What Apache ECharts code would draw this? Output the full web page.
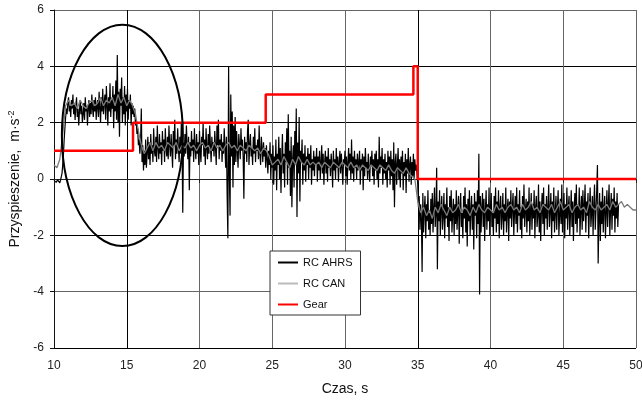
<!DOCTYPE html>
<html>
<head>
<meta charset="utf-8">
<script src="https://cdn.jsdelivr.net/npm/echarts@6/dist/echarts.min.js"></script>
<style>
  html, body { margin: 0; padding: 0; background: #fff; }
  #chart { width: 642px; height: 400px; }
</style>
</head>
<body>
<div id="chart"></div>
<script>
// Time axis ticks (s) and acceleration axis ticks (m/s^2)
const xTicks = [10, 15, 20, 25, 30, 35, 40, 45, 50];
const yTicks = [-6, -4, -2, 0, 2, 4, 6];

// RC AHRS acceleration, sampled every 0.05 s from t = 10.0 s (one row per half second)
const ahrsStart = 10.0;
const ahrsStep = 0.05;
const ahrsValues = [
  -0.05,-0.1,-0.02,-0.12,-0.08,-0.03,-0.1,-0.06,-0.14,-0.04,
  0.0,0.2,0.5,0.9,1.4,1.8,2.2,2.5,2.3,2.7,
  2.9,2.4,2.6,2.2,2.8,2.5,3.0,2.3,2.7,2.1,
  2.6,2.9,2.2,2.5,1.9,2.4,2.8,2.3,2.6,2.0,
  2.3,2.7,2.1,2.9,2.4,2.6,1.9,2.5,2.8,2.2,
  2.7,2.3,3.0,2.5,2.2,2.8,2.4,2.9,2.1,2.6,
  2.8,2.2,3.1,2.5,2.0,2.9,2.4,3.2,2.3,2.7,
  3.0,2.1,3.3,2.6,1.9,2.9,2.4,3.4,2.2,2.8,
  2.5,3.3,1.8,3.0,2.4,3.5,2.1,4.4,2.0,3.1,
  1.5,3.2,2.6,3.6,2.0,2.9,2.3,3.3,1.9,3.0,
  2.4,3.2,2.1,2.8,2.5,3.0,1.9,2.7,2.3,2.6,
  2.2,2.5,1.9,2.1,1.6,1.8,1.2,1.4,0.9,1.3,
  2.5,0.6,1.2,0.3,1.0,0.5,1.4,0.4,0.9,1.5,
  0.7,1.3,0.5,1.6,0.9,1.2,0.6,1.8,1.0,0.8,
  1.5,0.6,1.9,1.1,0.7,1.6,0.9,1.3,0.5,1.7,
  1.0,1.4,0.6,1.8,1.1,0.8,1.5,0.7,1.9,1.2,
  0.8,1.6,1.0,0.4,1.7,1.2,2.1,0.7,1.4,0.9,
  1.8,1.1,0.6,1.5,0.9,2.0,1.2,-1.2,1.3,0.8,
  1.6,0.9,1.9,1.2,0.7,1.5,-0.4,1.3,0.8,1.7,
  1.0,1.4,0.6,1.8,1.1,0.7,1.6,0.9,1.3,0.5,
  1.7,1.0,0.6,1.5,1.2,2.0,0.8,1.4,0.5,1.8,
  1.1,0.7,1.6,0.9,1.9,1.2,0.6,1.5,1.0,1.3,
  0.8,1.7,1.1,0.5,1.9,1.2,2.1,0.7,1.4,1.0,
  1.6,0.6,1.3,0.9,1.8,1.1,0.4,1.5,-0.6,-2.1,
  4.0,0.2,-1.3,3.0,0.8,2.4,-0.3,1.9,0.5,2.2,
  0.6,1.7,1.0,0.4,1.6,1.2,0.7,1.8,1.0,1.4,
  0.8,-0.7,1.5,0.9,1.3,0.6,1.7,2.1,0.5,1.2,
  1.6,0.8,1.1,0.5,1.5,0.9,1.8,0.6,1.2,1.0,
  1.4,0.7,1.9,0.9,0.5,1.5,1.1,0.6,1.3,0.8,
  1.1,0.4,1.2,0.7,0.2,1.0,0.5,1.3,0.0,0.9,
  0.4,1.2,-0.2,0.8,0.3,1.4,-0.4,0.9,0.5,1.5,
  0.0,1.1,-0.5,0.7,1.6,0.2,0.9,-0.3,1.3,0.6,
  1.8,-0.2,2.3,0.4,1.0,-0.6,1.5,-1.0,0.7,1.2,
  -0.3,1.7,0.5,2.5,-1.35,1.3,0.2,2.2,-0.8,1.0,
  0.6,1.4,-0.2,0.9,0.3,1.2,-0.1,0.8,0.5,1.1,
  0.0,0.9,0.4,1.2,-0.2,0.7,0.3,1.0,0.1,0.8,
  0.5,1.1,-0.1,0.8,0.3,1.0,0.0,0.6,1.2,0.2,
  0.9,-0.2,0.6,1.0,0.2,0.8,-0.1,1.1,0.4,0.7,
  0.1,0.9,0.5,-0.3,1.0,0.3,0.7,0.0,1.1,0.4,
  0.8,-0.1,0.6,1.0,0.2,0.9,0.4,-0.2,0.7,0.5,
  1.0,0.1,0.8,-0.2,0.6,1.1,0.3,0.9,0.0,1.4,
  0.2,0.8,-0.1,1.0,0.4,0.7,0.0,0.9,0.3,0.6,
  1.0,-0.2,0.7,0.3,0.9,-0.4,0.8,0.1,1.1,0.4,
  0.6,0.0,0.9,0.3,-0.1,0.8,0.5,1.0,0.1,0.7,
  -0.2,0.9,0.3,1.0,0.0,0.7,-0.3,1.5,0.2,0.8,
  0.4,1.1,-0.2,0.7,0.2,0.9,0.0,0.6,-0.3,1.0,
  0.3,0.8,-0.2,1.0,0.1,0.7,-0.4,1.3,-1.0,0.6,
  0.9,-0.2,0.5,1.1,0.0,0.7,-0.3,0.8,0.2,1.0,
  -0.4,0.6,0.1,0.9,-0.5,0.7,0.2,1.1,-0.1,0.5,
  0.8,-0.2,0.6,0.1,0.9,0.0,0.7,0.3,0.5,0.2,
  -0.2,-1.0,-0.6,-1.8,-0.9,-1.4,-3.3,-0.5,-1.9,-1.1,
  -0.6,-2.1,-0.9,-1.5,-0.4,-1.8,-1.2,-2.0,-0.7,-1.6,
  -0.5,-1.9,-1.0,-0.3,-1.7,-1.2,0.4,-3.2,-0.8,-1.5,
  -0.4,-2.0,-1.1,-0.6,-1.8,-1.3,-0.5,-2.1,-0.9,-1.4,
  -0.3,-1.7,-1.0,-2.2,-0.6,-1.5,-0.4,-1.9,-1.2,-0.7,
  -2.0,-0.9,-1.6,-0.4,-1.8,-1.1,-0.6,-2.3,-1.0,-0.5,
  -1.7,-1.2,-2.1,-0.6,-1.4,-0.3,-1.9,-0.9,-2.4,-0.7,
  -1.5,-0.4,-2.0,-1.1,-0.6,-1.8,-0.9,-2.5,-0.5,-1.3,
  -0.8,-2.1,-0.4,-1.6,0.9,-4.1,-0.6,-1.9,-1.0,-0.5,
  -1.7,-0.7,-2.2,-1.1,-0.4,-1.8,-0.9,-1.5,-0.3,-2.0,
  -1.0,-0.5,-1.7,-1.2,-2.0,-0.6,-1.4,-0.3,-1.9,-0.8,
  -1.6,-0.4,-2.1,-1.0,-0.6,-1.8,-1.3,-0.5,-2.0,-0.9,
  -1.5,-0.3,-1.9,-1.1,-0.7,-2.2,-0.8,-1.4,-0.4,-1.7,
  -1.0,-0.5,-2.0,-1.2,-0.6,-1.6,-0.3,-1.9,-0.9,-1.3,
  -0.4,-1.8,-1.0,-2.1,-0.6,-1.4,-0.2,-1.7,-1.1,-0.7,
  -1.9,-0.8,-1.5,-0.3,-2.0,-1.2,-0.5,-1.8,-0.9,-1.4,
  -0.4,-2.1,-1.0,-0.6,-1.7,-1.3,-0.2,-1.9,-0.8,-2.2,
  -1.1,-0.5,-1.6,-0.3,-2.0,-0.9,-1.4,-0.6,-1.8,-1.0,
  -0.2,-1.7,-1.1,-0.5,-2.1,-0.8,-1.5,-0.3,-1.9,-1.2,
  -0.6,-1.8,-1.0,-0.4,-2.0,-1.3,-0.7,-1.6,-0.2,-1.9,
  -1.1,-0.5,-2.1,-0.9,-1.4,-0.3,-1.8,-1.0,-0.6,-2.0,
  -1.2,-0.4,-1.7,-0.8,-2.2,-1.0,-0.5,-1.6,-0.2,-1.9,
  -0.9,-1.4,-0.3,-2.0,-1.1,-0.6,-1.8,-0.4,-1.5,-1.0,
  -0.2,-1.9,-0.8,-1.3,-0.5,-2.1,-1.0,-0.3,-1.7,-1.2,
  -0.6,-2.0,-0.9,-0.2,-1.8,-1.1,-0.4,0.5,-3.0,-1.4,
  -0.5,-2.2,-0.8,-1.6,-0.3,-1.9,-1.0,-0.6,-2.1,-1.2,
  -0.4,-1.7,-0.9,-0.2,-2.0,-1.1,-0.5,-1.8,-0.7,-1.3,
  -0.3,-1.9,-0.8,-1.4,-0.5,-1.7,-0.9
];

// RC CAN acceleration, sampled every 0.2 s from t = 10.0 s (one row per 2 s)
const canStart = 10.0;
const canStep = 0.2;
const canValues = [
  0.5,0.4,0.7,1.6,2.6,2.8,2.6,2.7,2.5,2.8,
  2.6,2.5,2.7,2.8,2.6,2.7,2.9,2.6,2.8,2.7,
  2.9,2.6,3.0,2.7,2.9,2.6,2.8,2.6,2.3,1.7,
  1.2,0.9,1.1,1.3,1.0,1.3,1.1,1.2,1.0,1.3,
  1.2,1.1,1.3,1.0,1.2,1.1,1.3,1.1,1.2,1.0,
  1.2,1.3,1.1,1.2,1.0,1.3,1.1,1.2,1.0,1.2,
  1.3,1.1,1.2,1.0,1.2,1.1,1.0,1.2,1.1,1.0,
  1.1,0.9,1.1,1.0,0.8,0.5,0.6,0.7,0.5,0.8,
  0.6,0.4,0.7,0.5,0.8,0.6,0.5,0.7,0.5,0.6,
  0.5,0.6,0.4,0.6,0.5,0.4,0.6,0.5,0.4,0.6,
  0.5,0.4,0.6,0.4,0.5,0.3,0.5,0.4,0.3,0.5,
  0.4,0.3,0.5,0.4,0.3,0.5,0.3,0.2,0.4,0.3,
  0.2,0.4,0.2,0.1,0.0,-0.8,-1.2,-1.0,-1.3,-1.1,
  -1.4,-1.0,-1.2,-0.9,-1.1,-1.3,-1.0,-1.2,-1.1,-0.9,
  -1.2,-1.0,-1.1,-1.3,-1.0,-1.2,-0.9,-1.1,-1.2,-1.0,
  -1.1,-1.2,-0.9,-1.1,-1.0,-1.2,-1.0,-0.9,-1.1,-1.0,
  -1.2,-0.9,-1.1,-1.0,-0.8,-1.1,-1.0,-1.2,-0.9,-1.0,
  -1.1,-0.9,-1.2,-1.0,-0.8,-1.1,-1.0,-0.9,-1.2,-1.0,
  -0.9,-1.1,-1.0,-1.2,-0.8,-1.0,-1.1,-0.9,-1.1,-1.0,
  -0.9,-1.1,-0.8,-1.0,-0.9,-0.8,-1.0,-0.9,-1.0,-1.1,
  -1.1
];

// Gear: value held from each switch time until the next one
const gearTimes = [10, 15.43, 24.55, 34.7, 35.0, 50];
const gearValues = [1, 2, 3, 4, 0, 0];

// Highlighted region (ellipse) in data units
const ellipseCenter = [14.7, 1.55];
const ellipseRadii = [4.16, 3.93];

function toPairs(start, step, values) {
  return values.map((v, i) => [+(start + i * step).toFixed(2), v]);
}

const ahrsData = toPairs(ahrsStart, ahrsStep, ahrsValues);
const canData = toPairs(canStart, canStep, canValues);
const gearData = gearTimes.map((t, i) => [t, gearValues[i]]);

const FONT = 'Liberation Sans, Arial, sans-serif';
const xGridColors = ['#000', '#000', '#666', '#666', '#666', '#000', '#666', '#666', '#666'];
const yGridColors = ['#000', '#666', '#000', '#000', '#000', '#000', '#666'];

const chart = echarts.init(document.getElementById('chart'), null, { renderer: 'canvas' });

chart.setOption({
  animation: false,
  backgroundColor: '#fff',
  grid: { left: 54, right: 6, top: 10, bottom: 52, containLabel: false, outerBoundsMode: 'none' },
  xAxis: {
    type: 'value',
    min: xTicks[0],
    max: xTicks[xTicks.length - 1],
    interval: 5,
    name: 'Czas, s',
    nameLocation: 'middle',
    nameGap: 34,
    nameTextStyle: { fontFamily: FONT, fontSize: 14, color: '#111' },
    axisLine: { lineStyle: { color: '#222', width: 1 } },
    axisTick: { show: true, length: 4, lineStyle: { color: '#222' } },
    axisLabel: { fontFamily: FONT, fontSize: 12, color: '#222', margin: 12 },
    splitLine: { show: true, lineStyle: { color: xGridColors, width: 1 } }
  },
  yAxis: {
    type: 'value',
    min: yTicks[0],
    max: yTicks[yTicks.length - 1],
    interval: 2,
    name: '{a|Przyspieszenie,  m·s}{s|-2}',
    nameLocation: 'middle',
    nameGap: 29,
    nameTextStyle: {
      fontFamily: FONT, fontSize: 14, color: '#111',
      rich: {
        a: { fontFamily: FONT, fontSize: 14, color: '#111' },
        s: { fontFamily: FONT, fontSize: 9, color: '#111', verticalAlign: 'top', padding: [0, 0, 7, 0] }
      }
    },
    axisLine: { show: true, lineStyle: { color: '#111', width: 1 } },
    axisTick: { show: true, length: 4, lineStyle: { color: '#111' } },
    axisLabel: { fontFamily: FONT, fontSize: 12, color: '#222', margin: 10 },
    splitLine: { show: true, lineStyle: { color: yGridColors, width: 1 } }
  },
  legend: {
    orient: 'vertical',
    left: 270,
    top: 251,
    padding: [6, 8, 5, 8],
    itemGap: 10,
    itemWidth: 20,
    itemHeight: 2,
    backgroundColor: '#fff',
    borderColor: '#333',
    borderWidth: 1,
    textStyle: { fontFamily: FONT, fontSize: 11, color: '#111' },
    data: [
      { name: 'RC AHRS', icon: 'rect', itemStyle: { color: '#000' } },
      { name: 'RC CAN', icon: 'rect', itemStyle: { color: '#bbb' } },
      { name: 'Gear', icon: 'rect', itemStyle: { color: '#f00' } }
    ]
  },
  series: [
    {
      name: 'RC AHRS',
      type: 'line',
      data: ahrsData,
      showSymbol: false,
      symbol: 'none',
      lineStyle: { color: '#000', width: 1.2 },
      itemStyle: { color: '#000' },
      z: 2
    },
    {
      name: 'RC CAN',
      type: 'line',
      data: canData,
      showSymbol: false,
      symbol: 'none',
      lineStyle: { color: '#7a7a7a', width: 1.3 },
      itemStyle: { color: '#7a7a7a' },
      z: 3
    },
    {
      name: 'Gear',
      type: 'line',
      data: gearData,
      step: 'end',
      showSymbol: false,
      symbol: 'none',
      lineStyle: { color: '#ff0000', width: 2.5 },
      itemStyle: { color: '#ff0000' },
      z: 4
    }
  ]
});

// Ellipse marking the start-up region, placed from data coordinates
function drawEllipse() {
  const c = chart.convertToPixel({ gridIndex: 0 }, ellipseCenter);
  const ex = chart.convertToPixel({ gridIndex: 0 }, [ellipseCenter[0] + ellipseRadii[0], ellipseCenter[1]]);
  const ey = chart.convertToPixel({ gridIndex: 0 }, [ellipseCenter[0], ellipseCenter[1] + ellipseRadii[1]]);
  chart.setOption({
    graphic: [{
      type: 'ellipse',
      z: 10,
      shape: { cx: c[0], cy: c[1], rx: Math.abs(ex[0] - c[0]), ry: Math.abs(c[1] - ey[1]) },
      style: { fill: 'none', stroke: '#000', lineWidth: 2 }
    }]
  });
}
drawEllipse();
</script>
</body>
</html>
